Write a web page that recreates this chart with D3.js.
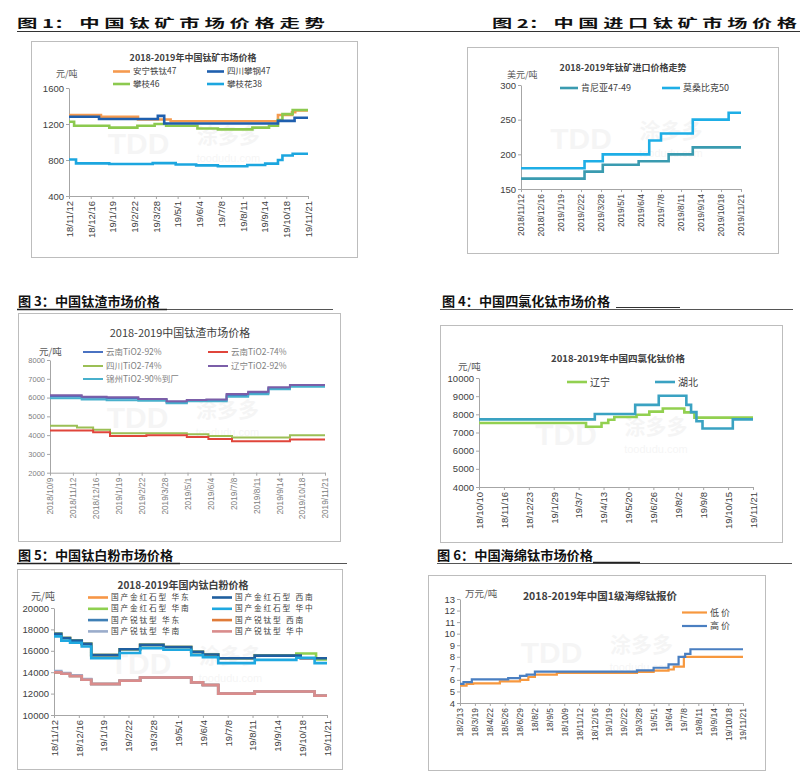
<!DOCTYPE html>
<html><head><meta charset="utf-8">
<script src="https://cdn.jsdelivr.net/npm/d3@7"></script>
<style>
body{margin:0;background:#fff;}
svg{display:block;}
</style></head><body>
<svg id="c" width="800" height="778"></svg>
<script>
// ---------------- DATA ----------------
// Panel 1: 中国钛矿市场价格 (元/吨)
const p1Title = "2018-2019年中国钛矿市场价格";
const p1Unit = "元/吨";
const p1YTicks = [400, 800, 1200, 1600];
const p1XDates = ["2018-11-12","2018-12-16","2019-01-19","2019-02-22","2019-03-28","2019-05-01","2019-06-04","2019-07-08","2019-08-11","2019-09-14","2019-10-18","2019-11-21"];
const p1XLabels = ["18/11/12","18/12/16","19/1/19","19/2/22","19/3/28","19/5/1","19/6/4","19/7/8","19/8/11","19/9/14","19/10/18","19/11/21"];
const p1Names = ["安宁铁钛47","四川攀钢47","攀枝46","攀枝花38"];
const p1Anning47 = [["2018-11-12",1300],["2019-01-01",1280],["2019-02-28",1250],["2019-04-20",1230],["2019-10-05",1300],["2019-10-27",1330],["2019-11-01",1350],["2019-11-21",1350]];
const p1Pangang47 = [["2018-11-12",1280],["2018-12-29",1255],["2019-03-31",1290],["2019-04-10",1205],["2019-10-05",1235],["2019-10-31",1270],["2019-11-21",1270]];
const p1Panzhi46 = [["2018-11-12",1225],["2018-11-20",1180],["2019-01-14",1160],["2019-02-27",1180],["2019-03-26",1200],["2019-04-13",1180],["2019-06-01",1150],["2019-07-03",1140],["2019-08-26",1160],["2019-09-21",1180],["2019-10-05",1245],["2019-10-12",1310],["2019-10-28",1355],["2019-11-21",1355]];
const p1Panzhihua38 = [["2018-11-12",805],["2018-11-23",762],["2019-01-14",755],["2019-03-23",765],["2019-04-28",750],["2019-05-30",740],["2019-07-03",730],["2019-08-18",745],["2019-09-15",760],["2019-10-05",800],["2019-10-12",850],["2019-10-28",870],["2019-11-21",870]];

// Panel 2: 中国进口钛矿市场价格 (美元/吨)
const p2Title = "2018-2019年钛矿进口价格走势";
const p2Unit = "美元/吨";
const p2YTicks = [150, 200, 250, 300];
const p2XDates = p1XDates;
const p2XLabels = ["2018/11/12","2018/12/16","2019/1/19","2019/2/22","2019/3/28","2019/5/1","2019/6/4","2019/7/8","2019/8/11","2019/9/14","2019/10/18","2019/11/21"];
const p2Names = ["肯尼亚47-49","莫桑比克50"];
const p2Kenya = [["2018-11-12",165],["2019-02-28",175],["2019-03-31",185],["2019-05-31",190],["2019-07-21",200],["2019-08-31",210],["2019-11-21",210]];
const p2Mozambique = [["2018-11-12",180],["2019-02-28",190],["2019-03-31",200],["2019-06-18",220],["2019-07-08",230],["2019-08-31",250],["2019-10-31",260],["2019-11-21",260]];

// Panel 3: 中国钛渣市场价格 (元/吨)
const p3Title = "2018-2019中国钛渣市场价格";
const p3Unit = "元/吨";
const p3YTicks = [2000,3000,4000,5000,6000,7000,8000];
const p3XDates = ["2018-10-09","2018-11-12","2018-12-16","2019-01-19","2019-02-22","2019-03-28","2019-05-01","2019-06-04","2019-07-08","2019-08-11","2019-09-14","2019-10-18","2019-11-21"];
const p3XLabels = ["2018/10/9","2018/11/12","2018/12/16","2019/1/19","2019/2/22","2019/3/28","2019/5/1","2019/6/4","2019/7/8","2019/8/11","2019/9/14","2019/10/18","2019/11/21"];
const p3Names = ["云南TiO2-92%","云南TiO2-74%","四川TiO2-74%","辽宁TiO2-92%","锦州TiO2-90%到厂"];
const p3Yunnan92 = [["2018-10-09",6060],["2018-11-25",5990],["2019-01-01",5960],["2019-02-17",5880],["2019-03-31",5750],["2019-04-30",5840],["2019-06-28",6120],["2019-07-30",6240],["2019-08-29",6500],["2019-09-30",6620],["2019-11-21",6620]];
const p3Yunnan74 = [["2018-10-09",4250],["2018-12-12",4150],["2019-01-06",3950],["2019-03-01",4000],["2019-04-30",3900],["2019-06-01",3800],["2019-07-06",3680],["2019-09-30",3770],["2019-11-21",3770]];
const p3Sichuan74 = [["2018-10-09",4500],["2018-11-18",4400],["2018-12-12",4280],["2019-01-06",4100],["2019-04-30",4050],["2019-06-01",3950],["2019-07-06",3880],["2019-09-30",4000],["2019-11-21",4000]];
const p3Liaoning92 = [["2018-10-09",6130],["2018-11-25",6050],["2019-01-01",6020],["2019-02-17",5930],["2019-03-31",5800],["2019-04-30",5870],["2019-05-29",5900],["2019-06-28",6190],["2019-07-30",6310],["2019-08-29",6550],["2019-09-30",6670],["2019-11-21",6670]];
const p3Jinzhou90 = [["2018-10-09",5960],["2018-11-25",5900],["2019-01-01",5860],["2019-02-17",5830],["2019-03-31",5700],["2019-04-30",5810],["2019-06-28",6050],["2019-07-30",6170],["2019-08-29",6440],["2019-09-30",6580],["2019-11-21",6580]];

// Panel 4: 中国四氯化钛市场价格 (元/吨)
const p4Title = "2018-2019年中国四氯化钛价格";
const p4Unit = "元/吨";
const p4YTicks = [4000,5000,6000,7000,8000,9000,10000];
const p4XDates = ["2018-10-10","2018-11-16","2018-12-23","2019-01-29","2019-03-07","2019-04-13","2019-05-20","2019-06-26","2019-08-02","2019-09-08","2019-10-15","2019-11-21"];
const p4XLabels = ["18/10/10","18/11/16","18/12/23","19/1/29","19/3/7","19/4/13","19/5/20","19/6/26","19/8/2","19/9/8","19/10/15","19/11/21"];
const p4Names = ["辽宁","湖北"];
const p4Liaoning = [["2018-10-10",7520],["2019-03-18",7320],["2019-04-10",7520],["2019-04-20",7700],["2019-04-29",7850],["2019-06-01",7980],["2019-06-20",8150],["2019-07-10",8320],["2019-08-11",8110],["2019-08-26",7820],["2019-11-21",7820]];
const p4Hubei = [["2018-10-10",7720],["2019-03-31",8020],["2019-05-30",8520],["2019-07-04",9020],["2019-08-14",8520],["2019-08-21",8120],["2019-08-29",7620],["2019-09-07",7220],["2019-10-22",7720],["2019-11-21",7720]];

// Panel 5: 中国钛白粉市场价格 (元/吨)
const p5Title = "2018-2019年国内钛白粉价格";
const p5Unit = "元/吨";
const p5YTicks = [10000,12000,14000,16000,18000,20000];
const p5XDates = p1XDates;
const p5XLabels = p1XLabels;
const p5Names = ["国产金红石型 华东","国产金红石型 西南","国产金红石型 华南","国产金红石型 华中","国产锐钛型 华东","国产锐钛型 西南","国产锐钛型 华南","国产锐钛型 华中"];
const p5RutileEast = [["2018-11-12",17600],["2018-11-22",17200],["2018-12-04",16950],["2018-12-20",16650],["2019-01-02",15600],["2019-02-10",16150],["2019-03-10",16550],["2019-04-11",16350],["2019-05-19",15900],["2019-06-04",15650],["2019-06-25",15300],["2019-08-14",15550],["2019-10-16",15300],["2019-11-21",15300]];
const p5RutileSouthwest = [["2018-11-12",17600],["2018-11-22",17200],["2018-12-04",16950],["2018-12-20",16650],["2019-01-02",15600],["2019-02-10",16150],["2019-03-10",16550],["2019-04-11",16350],["2019-05-19",15900],["2019-06-04",15650],["2019-06-25",15300],["2019-08-14",15550],["2019-10-16",15300],["2019-11-21",15300]];
const p5RutileSouth = [["2018-11-12",17600],["2018-11-22",17200],["2018-12-04",16950],["2018-12-20",16650],["2019-01-02",15600],["2019-02-10",16150],["2019-03-10",16550],["2019-04-11",16350],["2019-05-19",15900],["2019-06-04",15650],["2019-06-25",15300],["2019-08-14",15550],["2019-10-10",15750],["2019-11-06",15200],["2019-11-21",15200]];
const p5RutileCentral = [["2018-11-12",17350],["2018-11-22",16950],["2018-12-04",16750],["2018-12-20",16400],["2019-01-02",15300],["2019-02-10",15800],["2019-03-10",16250],["2019-04-11",16100],["2019-05-19",15600],["2019-06-04",15400],["2019-06-25",14850],["2019-08-14",15150],["2019-10-10",15350],["2019-11-04",14850],["2019-11-21",14850]];
const p5AnataseEast = [["2018-11-12",14000],["2018-11-22",13850],["2018-12-04",13650],["2018-12-20",13300],["2019-01-02",12900],["2019-02-10",13200],["2019-03-10",13500],["2019-05-19",13050],["2019-06-04",12800],["2019-06-25",12000],["2019-08-14",12200],["2019-11-04",11800],["2019-11-21",11800]];
const p5AnataseSouthwest = [["2018-11-12",14000],["2018-11-22",13850],["2018-12-04",13650],["2018-12-20",13300],["2019-01-02",12900],["2019-02-10",13200],["2019-03-10",13500],["2019-05-19",13050],["2019-06-04",12800],["2019-06-25",12000],["2019-08-14",12200],["2019-11-04",11800],["2019-11-21",11800]];
const p5AnataseSouth = [["2018-11-12",14100],["2018-11-22",13920],["2018-12-04",13720],["2018-12-20",13350],["2019-01-02",12900],["2019-02-10",13200],["2019-03-10",13500],["2019-05-19",13050],["2019-06-04",12800],["2019-06-25",12000],["2019-08-14",12200],["2019-11-04",11800],["2019-11-21",11800]];
const p5AnataseCentral = [["2018-11-12",14000],["2018-11-22",13850],["2018-12-04",13650],["2018-12-20",13300],["2019-01-02",12900],["2019-02-10",13200],["2019-03-10",13500],["2019-05-19",13050],["2019-06-04",12800],["2019-06-25",12000],["2019-08-14",12200],["2019-11-04",11800],["2019-11-21",11800]];

// Panel 6: 中国海绵钛市场价格 (万元/吨)
const p6Title = "2018-2019年中国1级海绵钛报价";
const p6Unit = "万元/吨";
const p6YTicks = [4,5,6,7,8,9,10,11,12,13];
const p6XDates = ["2018-02-13","2018-03-19","2018-04-22","2018-05-26","2018-06-29","2018-08-02","2018-09-05","2018-10-09","2018-11-12","2018-12-16","2019-01-19","2019-02-22","2019-03-28","2019-05-01","2019-06-04","2019-07-08","2019-08-11","2019-09-14","2019-10-18","2019-11-21"];
const p6XLabels = ["18/2/13","18/3/19","18/4/22","18/5/26","18/6/29","18/8/2","18/9/5","18/10/9","18/11/12","18/12/16","19/1/19","19/2/22","19/3/28","19/5/1","19/6/4","19/7/8","19/8/11","19/9/14","19/10/18","19/11/21"];
const p6Names = ["低价","高价"];
const p6Low = [["2018-02-13",5.5],["2018-02-28",5.65],["2018-03-15",5.7],["2018-05-15",5.88],["2018-06-30",6.0],["2018-07-19",6.25],["2018-08-03",6.45],["2018-09-22",6.6],["2019-03-24",6.7],["2019-05-01",6.8],["2019-06-04",6.9],["2019-06-16",7.15],["2019-07-09",8.0],["2019-11-21",8.0]];
const p6High = [["2018-02-13",5.65],["2018-02-21",5.8],["2018-03-12",6.05],["2018-06-03",6.15],["2018-06-30",6.35],["2018-07-15",6.45],["2018-08-03",6.72],["2019-03-24",6.82],["2019-05-01",7.05],["2019-06-04",7.35],["2019-06-27",8.0],["2019-07-12",8.25],["2019-07-24",8.65],["2019-11-21",8.65]];

// ---------------- DRAWING ----------------
const svg = d3.select("#c");
const parse = d3.timeParse("%Y-%m-%d");
const CJK = '"Noto Sans CJK SC", sans-serif';
const NUM = '"Liberation Sans", Arial, "Noto Sans CJK SC", sans-serif';

function header(txt, x, y, len, size) {
  svg.append("text").attr("x", x).attr("y", y).text(txt)
    .attr("font-family", CJK).attr("font-weight", 700).attr("font-size", size)
    .attr("fill", "#111").attr("textLength", len).attr("lengthAdjust", "spacingAndGlyphs");
}
function hline(x1, x2, y, w, c) {
  svg.append("line").attr("x1", x1).attr("x2", x2).attr("y1", y).attr("y2", y)
    .attr("stroke", c).attr("stroke-width", w);
}

function panel(cfg) {
  const g = svg.append("g");
  const b = cfg.box;
  g.append("rect").attr("x", b[0] + 0.5).attr("y", b[1] + 0.5)
    .attr("width", b[2] - b[0]).attr("height", b[3] - b[1])
    .attr("fill", "#fff").attr("stroke", "#bdbdbd").attr("stroke-width", 1);
  const P = cfg.plot;
  const dates = cfg.xDates.map(parse);
  const x = d3.scaleTime().domain([dates[0], dates[dates.length - 1]]).range([P.x0, P.x1]);
  const y = d3.scaleLinear().domain([cfg.yTicks[0], cfg.yTicks[cfg.yTicks.length - 1]]).range([P.y1, P.y0]);

  // faint watermark
  const cx = (P.x0 + P.x1) / 2, cy = (P.y0 + P.y1) / 2;
  const wm = g.append("g").attr("fill", "#9a9a9a").attr("opacity", 0.09);
  wm.append("text").attr("x", cx - 50).attr("y", cy + 12).attr("text-anchor", "middle")
    .attr("font-family", NUM).attr("font-weight", 700).attr("font-size", 30).text("TDD");
  wm.append("text").attr("x", cx + 40).attr("y", cy + 1).attr("text-anchor", "middle")
    .attr("font-family", CJK).attr("font-weight", 700).attr("font-size", 21).text("涂多多");
  wm.append("text").attr("x", cx + 40).attr("y", cy + 20).attr("text-anchor", "middle")
    .attr("font-family", NUM).attr("font-size", 11).text("toodudu.com");

  // axes
  const ya = d3.axisLeft(y).tickValues(cfg.yTicks).tickSize(3).tickSizeOuter(0).tickPadding(2)
    .tickFormat(d3.format("d"));
  const gy = g.append("g").attr("transform", `translate(${P.x0},0)`).call(ya)
    .attr("font-family", NUM).attr("font-size", cfg.yFont);
  gy.select(".domain").attr("stroke", "#a6a6a6");
  gy.selectAll(".tick line").attr("stroke", "#a6a6a6");
  gy.selectAll(".tick text").attr("fill", cfg.tickColor);

  const xa = d3.axisBottom(x).tickValues(dates).tickSize(3).tickSizeOuter(0)
    .tickFormat((d, i) => cfg.xLabels[i]);
  const gx = g.append("g").attr("transform", `translate(0,${P.y1})`).call(xa)
    .attr("font-family", NUM).attr("font-size", cfg.xFont);
  gx.select(".domain").attr("stroke", "#a6a6a6");
  gx.selectAll(".tick line").attr("stroke", "#a6a6a6");
  gx.selectAll(".tick text").attr("fill", cfg.tickColor)
    .attr("transform", "rotate(-90)").attr("x", -5).attr("y", 0).attr("dy", "0.35em")
    .style("text-anchor", "end");

  // step lines
  const line = d3.line().x(d => x(parse(d[0]))).y(d => y(d[1])).curve(d3.curveStepAfter);
  cfg.draw.forEach(i => {
    const s = cfg.series[i];
    g.append("path").datum(s.data).attr("d", line).attr("fill", "none")
      .attr("stroke", s.color).attr("stroke-width", cfg.lw);
  });

  // legend
  cfg.series.forEach((s, i) => {
    const L = cfg.legend[i];
    g.append("line").attr("x1", L[0]).attr("x2", L[0] + cfg.legLen).attr("y1", L[1]).attr("y2", L[1])
      .attr("stroke", s.color).attr("stroke-width", cfg.lw);
    const t = g.append("text").attr("x", L[0] + cfg.legLen + 3).attr("y", L[1]).attr("dy", "0.35em")
      .attr("font-family", CJK).attr("font-size", cfg.legFont).attr("fill", cfg.legColor).text(s.name);
    if (cfg.legSpacing) t.attr("letter-spacing", cfg.legSpacing);
  });

  // title & unit
  g.append("text").attr("x", cfg.titlePos[0]).attr("y", cfg.titlePos[1]).attr("text-anchor", "middle")
    .attr("font-family", CJK).attr("font-weight", cfg.titleWeight).attr("font-size", cfg.titleFont)
    .attr("fill", "#404040").text(cfg.title);
  g.append("text").attr("x", cfg.unitPos[0]).attr("y", cfg.unitPos[1])
    .attr("font-family", CJK).attr("font-size", cfg.unitFont).attr("fill", "#595959").text(cfg.unit);
}

// headers
header("图 1： 中 国 钛 矿 市 场 价 格 走 势", 17, 27.5, 308, 12);
header("图 2： 中 国 进 口 钛 矿 市 场 价 格", 492, 27.5, 305, 12);
hline(17, 800, 31.5, 1, "#333");
header("图 3：中国钛渣市场价格", 18, 306, 142, 13);
hline(17, 333, 309.5, 1, "#555"); hline(17, 167, 309.5, 1.5, "#222");
header("图 4：中国四氯化钛市场价格", 442, 306, 168, 13);
hline(440, 793, 309.5, 1, "#555"); hline(616, 680, 307.5, 1.2, "#333");
header("图 5：中国钛白粉市场价格", 18, 559.5, 155, 13);
hline(17, 347, 563.5, 1, "#555"); hline(17, 180, 563.5, 1.5, "#222");
header("图 6：中国海绵钛市场价格", 437, 559.5, 156, 13);
hline(437, 792, 563.5, 1, "#555"); hline(593, 640, 562.5, 1.5, "#222");

// Panel 1
panel({
  box: [31, 41, 357, 257], plot: {x0: 69, x1: 308, y0: 88, y1: 196},
  yTicks: p1YTicks, xDates: p1XDates, xLabels: p1XLabels,
  yFont: 9.5, xFont: 9.5, tickColor: "#404040",
  series: [
    {name: p1Names[0], color: "#f59a4f", data: p1Anning47},
    {name: p1Names[1], color: "#1f5fae", data: p1Pangang47},
    {name: p1Names[2], color: "#8cc94f", data: p1Panzhi46},
    {name: p1Names[3], color: "#1ca6df", data: p1Panzhihua38}],
  draw: [0, 2, 1, 3], lw: 2.6,
  legend: [[113, 71.5], [207, 71.5], [113, 84], [207, 84]], legLen: 17, legFont: 8.5, legColor: "#404040",
  title: p1Title, titlePos: [193, 60.5], titleFont: 9, titleWeight: 700,
  unit: p1Unit, unitPos: [56, 76.5], unitFont: 9
});

// Panel 2
panel({
  box: [467, 47, 778, 253], plot: {x0: 521, x1: 741, y0: 85, y1: 189},
  yTicks: p2YTicks, xDates: p2XDates, xLabels: p2XLabels,
  yFont: 9.5, xFont: 8.5, tickColor: "#404040",
  series: [
    {name: p2Names[0], color: "#3a9bb0", data: p2Kenya},
    {name: p2Names[1], color: "#1eaee6", data: p2Mozambique}],
  draw: [0, 1], lw: 2.6,
  legend: [[560, 88], [662, 88]], legLen: 18, legFont: 9, legColor: "#404040",
  title: p2Title, titlePos: [623, 71], titleFont: 9, titleWeight: 700,
  unit: p2Unit, unitPos: [507, 77.5], unitFont: 9
});

// Panel 3
panel({
  box: [18, 313, 340, 541], plot: {x0: 50, x1: 325, y0: 360, y1: 472.7},
  yTicks: p3YTicks, xDates: p3XDates, xLabels: p3XLabels,
  yFont: 7.5, xFont: 8.3, tickColor: "#808080",
  series: [
    {name: p3Names[0], color: "#4a72c2", data: p3Yunnan92},
    {name: p3Names[1], color: "#e0453b", data: p3Yunnan74},
    {name: p3Names[2], color: "#9bbf55", data: p3Sichuan74},
    {name: p3Names[3], color: "#7b5ea8", data: p3Liaoning92},
    {name: p3Names[4], color: "#48b0cc", data: p3Jinzhou90}],
  draw: [0, 4, 3, 2, 1], lw: 2,
  legend: [[83, 352], [208, 352], [83, 366], [208, 366], [83, 379]], legLen: 20, legFont: 8.5, legColor: "#7f7f7f",
  title: p3Title, titlePos: [180, 337], titleFont: 11, titleWeight: 400,
  unit: p3Unit, unitPos: [39, 355], unitFont: 9.5
});

// Panel 4
panel({
  box: [440, 325, 782, 542], plot: {x0: 479, x1: 753, y0: 378, y1: 487},
  yTicks: p4YTicks, xDates: p4XDates, xLabels: p4XLabels,
  yFont: 9.5, xFont: 9.5, tickColor: "#404040",
  series: [
    {name: p4Names[0], color: "#92d050", data: p4Liaoning},
    {name: p4Names[1], color: "#3aa2c2", data: p4Hubei}],
  draw: [0, 1], lw: 2.6,
  legend: [[567, 382], [655, 382]], legLen: 20, legFont: 10, legColor: "#404040",
  title: p4Title, titlePos: [618, 361.5], titleFont: 9.5, titleWeight: 700,
  unit: p4Unit, unitPos: [458, 369.5], unitFont: 9.5
});

// Panel 5
panel({
  box: [17, 569, 342, 769], plot: {x0: 54, x1: 327, y0: 608, y1: 715},
  yTicks: p5YTicks, xDates: p5XDates, xLabels: p5XLabels,
  yFont: 9.5, xFont: 9.5, tickColor: "#404040",
  series: [
    {name: p5Names[0], color: "#f79646", data: p5RutileEast},
    {name: p5Names[1], color: "#1f5f9f", data: p5RutileSouthwest},
    {name: p5Names[2], color: "#8fd050", data: p5RutileSouth},
    {name: p5Names[3], color: "#1fa8e0", data: p5RutileCentral},
    {name: p5Names[4], color: "#3f7fb5", data: p5AnataseEast},
    {name: p5Names[5], color: "#e07b39", data: p5AnataseSouthwest},
    {name: p5Names[6], color: "#9aaccb", data: p5AnataseSouth},
    {name: p5Names[7], color: "#d98c8c", data: p5AnataseCentral}],
  draw: [0, 2, 1, 3, 4, 5, 6, 7], lw: 2.6,
  legend: [[88, 597.5], [212, 597.5], [88, 608.8], [212, 608.8], [88, 620.1], [212, 620.1], [88, 631.4], [212, 631.4]],
  legLen: 20, legFont: 7.7, legSpacing: 1.8, legColor: "#404040",
  title: p5Title, titlePos: [183, 588.5], titleFont: 10, titleWeight: 700,
  unit: p5Unit, unitPos: [31, 599.5], unitFont: 10
});

// Panel 6
panel({
  box: [428, 575, 765, 770], plot: {x0: 460, x1: 743, y0: 599, y1: 703},
  yTicks: p6YTicks, xDates: p6XDates, xLabels: p6XLabels,
  yFont: 9.5, xFont: 8.5, tickColor: "#404040",
  series: [
    {name: p6Names[0], color: "#f7983e", data: p6Low},
    {name: p6Names[1], color: "#4a7fc1", data: p6High}],
  draw: [0, 1], lw: 2.2,
  legend: [[682, 612.5], [682, 626]], legLen: 25, legFont: 9, legSpacing: 2, legColor: "#404040",
  title: p6Title, titlePos: [600, 599.5], titleFont: 10.5, titleWeight: 700,
  unit: p6Unit, unitPos: [465, 596.5], unitFont: 9.5
});
</script>
</body></html>
